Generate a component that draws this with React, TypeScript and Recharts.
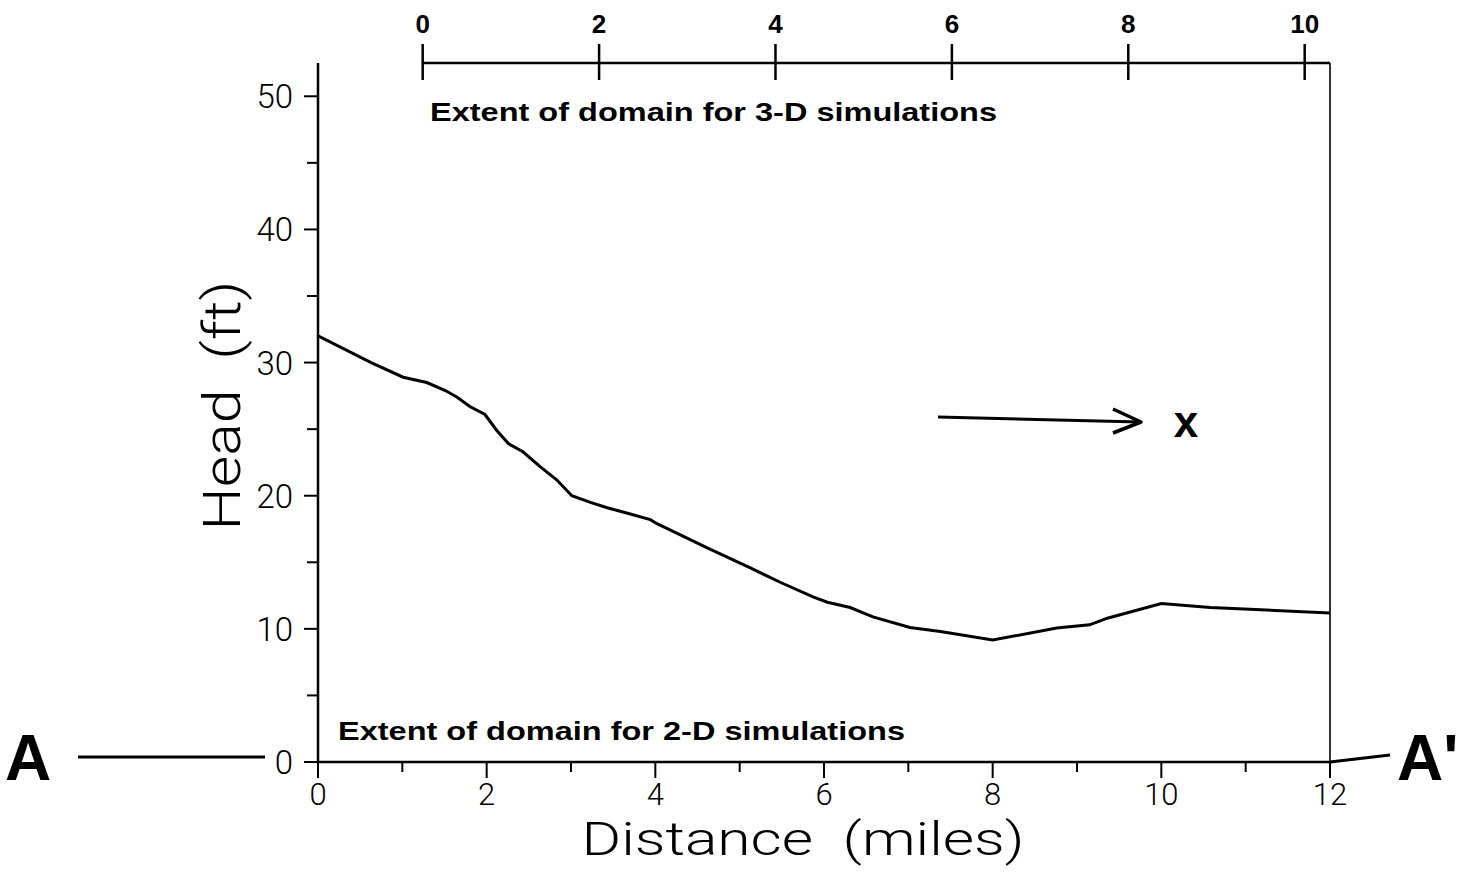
import React from 'react';
import { ComposedChart, Line, XAxis, YAxis, ReferenceLine, Label } from 'recharts';

// ---- data ----
const distanceMiles = [0, 0.63, 1.01, 1.29, 1.51, 1.65, 1.8, 1.98, 2.12, 2.26, 2.43, 2.63, 2.83, 3.01, 3.23, 3.43, 3.66, 3.94, 4.02, 4.61, 5.12, 5.48, 5.87, 6.04, 6.31, 6.58, 7.02, 7.38, 8.0, 8.76, 9.15, 9.36, 10.0, 10.58, 12];
const headFt = [32.0, 30.0, 28.9, 28.5, 27.9, 27.4, 26.7, 26.1, 24.9, 23.9, 23.3, 22.2, 21.2, 20.0, 19.5, 19.1, 18.7, 18.2, 17.9, 16.1, 14.6, 13.5, 12.4, 12.0, 11.6, 10.9, 10.1, 9.8, 9.16, 10.06, 10.3, 10.8, 11.9, 11.6, 11.2];
const distanceTicks = [0, 1, 2, 3, 4, 5, 6, 7, 8, 9, 10, 11, 12];
const headTicks = [0, 5, 10, 15, 20, 25, 30, 35, 40, 45, 50];
const topTicks = [0, 2, 4, 6, 8, 10];
const topDomain = [-1.187, 10.287];
const headDomain = [0, 52.5];
const distanceDomain = [0, 12];

const data = distanceMiles.map((d, i) => ({ distance: d, head: headFt[i] }));

const THIN = "Roboto, 'Liberation Sans', sans-serif";
const BOLD = "'Liberation Sans', Arial, sans-serif";

const BottomTick = (props: any) => {
  const { x, y, payload } = props;
  const v = payload.value;
  const major = v % 2 === 0;
  return (
    <g>
      <line x1={x} x2={x} y1={y} y2={y + (major ? 16 : 10)} stroke="#000" strokeWidth={2} />
      {major && (
        <text x={x} y={y + 43} textAnchor="middle" fontFamily={THIN} fontWeight={300} fontSize={31} fill="#000">
          {v}
        </text>
      )}
    </g>
  );
};

const LeftTick = (props: any) => {
  const { x, y, payload } = props;
  const v = payload.value;
  const major = v % 10 === 0;
  return (
    <g>
      <line x1={x - (major ? 14 : 11)} x2={x} y1={y} y2={y} stroke="#000" strokeWidth={2} />
      {major && (
        <text x={x - 25} y={y + 12} textAnchor="end" fontFamily={THIN} fontWeight={300} fontSize={33} fill="#000">
          {v}
        </text>
      )}
    </g>
  );
};

const TopTick = (props: any) => {
  const { x, y, payload } = props;
  return (
    <g>
      <line x1={x} x2={x} y1={y - 19} y2={y + 17} stroke="#000" strokeWidth={2.5} />
      <text x={x} y={y - 30} textAnchor="middle" fontFamily={BOLD} fontWeight={700} fontSize={26} fill="#000">
        {payload.value}
      </text>
    </g>
  );
};

const DistanceLabel = (props: any) => {
  const vb = props.viewBox;
  return (
    <text
      x={vb.x + vb.width / 2 - 21}
      y={vb.y + 93}
      textAnchor="middle"
      fontFamily={THIN}
      fontWeight={300}
      fontSize={47}
      textLength={443}
      lengthAdjust="spacingAndGlyphs"
      style={{ whiteSpace: 'pre' }}
      fill="#000"
    >
      {'Distance  (miles)'}
    </text>
  );
};

const HeadLabel = (props: any) => {
  const vb = props.viewBox;
  const cx = vb.x + 240;
  const cy = vb.y + vb.height / 2 - 7;
  return (
    <text
      x={cx}
      y={cy}
      transform={`rotate(-90 ${cx} ${cy})`}
      textAnchor="middle"
      fontFamily={THIN}
      fontWeight={300}
      fontSize={52}
      textLength={250}
      lengthAdjust="spacingAndGlyphs"
      style={{ whiteSpace: 'pre' }}
      fill="#000"
    >
      {'Head  (ft)'}
    </text>
  );
};

export default function App() {
  return (
    <div style={{ position: 'absolute', left: 0, top: 0, width: 1465, height: 873, background: '#fff' }}>
      <ComposedChart width={1465} height={873} data={data} margin={{ top: 0, right: 135, bottom: 0, left: 0 }}>
        <XAxis
          xAxisId="bottom"
          dataKey="distance"
          type="number"
          domain={distanceDomain}
          ticks={distanceTicks}
          interval={0}
          orientation="bottom"
          height={111}
          tickSize={0}
          tickMargin={0}
          tickLine={false}
          tick={<BottomTick />}
          axisLine={{ stroke: '#000', strokeWidth: 2.5 }}
          allowDataOverflow
        >
          <Label content={<DistanceLabel />} />
        </XAxis>
        <XAxis
          xAxisId="top"
          dataKey="distance"
          type="number"
          domain={topDomain}
          ticks={topTicks}
          interval={0}
          orientation="top"
          height={63}
          tickSize={0}
          tickMargin={0}
          tickLine={false}
          tick={<TopTick />}
          axisLine={false}
          allowDataOverflow
        />
        <YAxis
          yAxisId="head"
          type="number"
          domain={headDomain}
          ticks={headTicks}
          interval={0}
          width={318}
          tickSize={0}
          tickMargin={0}
          tickLine={false}
          tick={<LeftTick />}
          axisLine={{ stroke: '#000', strokeWidth: 2.5 }}
          allowDataOverflow
        >
          <Label content={<HeadLabel />} />
        </YAxis>
        <ReferenceLine
          xAxisId="top"
          yAxisId="head"
          segment={[{ x: 0, y: 52.5 }, { x: topDomain[1], y: 52.5 }]}
          stroke="#000"
          strokeWidth={2.5}
          ifOverflow="visible"
        />
        <ReferenceLine xAxisId="bottom" yAxisId="head" x={12} stroke="#000" strokeWidth={1.6} />
        <Line
          xAxisId="bottom"
          yAxisId="head"
          dataKey="head"
          type="linear"
          stroke="#000"
          strokeWidth={3}
          dot={false}
          activeDot={false}
          isAnimationActive={false}
        />
      </ComposedChart>
      <svg
        width={1465}
        height={873}
        style={{ position: 'absolute', left: 0, top: 0, pointerEvents: 'none' }}
      >
        <text x={430} y={121} fontFamily={BOLD} fontWeight={700} fontSize={26} textLength={567} lengthAdjust="spacingAndGlyphs" fill="#000">
          Extent of domain for 3-D simulations
        </text>
        <text x={338} y={740} fontFamily={BOLD} fontWeight={700} fontSize={26} textLength={567} lengthAdjust="spacingAndGlyphs" fill="#000">
          Extent of domain for 2-D simulations
        </text>
        <line x1={938} y1={417} x2={1140} y2={422} stroke="#000" strokeWidth={3} />
        <polyline points="1113,409 1141,422 1113,433" fill="none" stroke="#000" strokeWidth={3.5} strokeLinejoin="round" />
        <text x={1186} y={437} textAnchor="middle" fontFamily={BOLD} fontWeight={700} fontSize={44} fill="#000">
          x
        </text>
        <text x={5} y={780} fontFamily={BOLD} fontWeight={900} fontSize={64} fill="#000">
          A
        </text>
        <line x1={78} y1={757} x2={265} y2={757} stroke="#000" strokeWidth={3} />
        <line x1={1330} y1={762} x2={1390} y2={755} stroke="#000" strokeWidth={3} />
        <text x={1397} y={780} fontFamily={BOLD} fontWeight={900} fontSize={64} fill="#000">
          A'
        </text>
      </svg>
    </div>
  );
}
